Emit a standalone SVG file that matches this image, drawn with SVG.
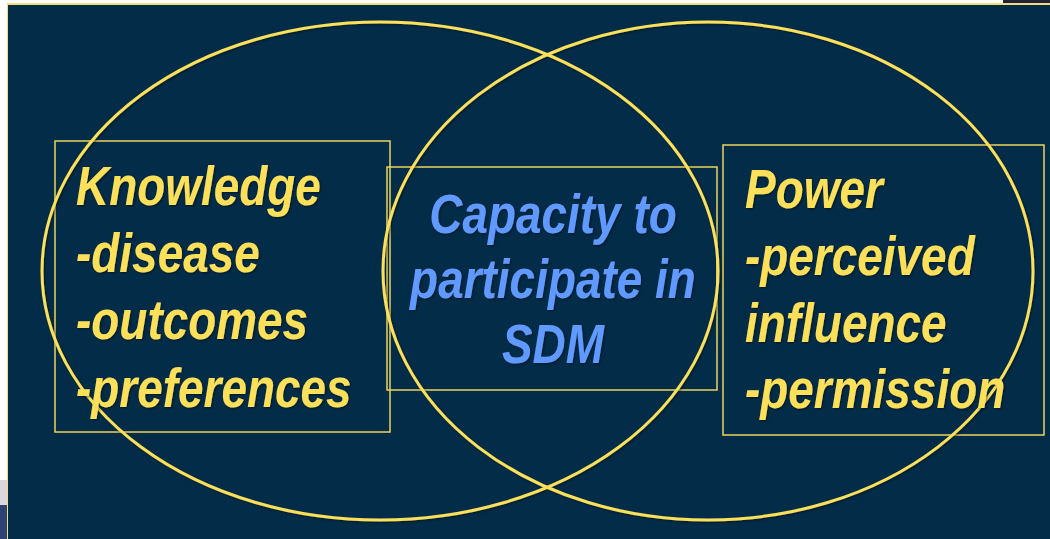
<svg xmlns="http://www.w3.org/2000/svg" width="1050" height="539" viewBox="0 0 1050 539">
  <defs>
    <filter id="shadow" x="-10%" y="-10%" width="120%" height="120%">
      <feDropShadow dx="1.2" dy="1.2" stdDeviation="1" flood-color="#000000" flood-opacity="0.45"/>
    </filter>
  </defs>
  <style>
    .ring { fill: none; stroke: #fbe05c; stroke-width: 3; }
    .box { fill: none; stroke: #eed35e; stroke-width: 1.5; }
    .lbl { font-family: "Liberation Sans", Arial, sans-serif; font-weight: bold; font-style: italic; font-size: 55px; }
    .gold { fill: #fde05a; }
    .blue { fill: #6199ff; }
  </style>

  <!-- page and slide frame -->
  <rect x="0" y="0" width="1050" height="539" fill="#ffffff"/>
  <rect x="1003" y="0" width="47" height="4" fill="#22223a"/>
  <rect x="0" y="480" width="8" height="25" fill="#d8d8de"/>
  <rect x="0" y="505" width="8" height="34" fill="#2c4272"/>
  <rect x="7" y="3" width="1043" height="536" fill="#f3dc7a"/>
  <rect x="8" y="5" width="1042" height="534" fill="#032c48"/>

  <!-- boxes -->
  <g id="knowledge-box">
    <rect class="box" x="55" y="141" width="335" height="291"/>
  </g>
  <g id="capacity-box">
    <rect class="box" x="387" y="167" width="330" height="223"/>
  </g>
  <g id="power-box">
    <rect class="box" x="723" y="145" width="321" height="290"/>
  </g>

  <!-- overlapping circles -->
  <g id="connectors" filter="url(#shadow)">
    <ellipse id="knowledge-circle" class="ring" cx="380" cy="271" rx="338" ry="249"/>
    <ellipse id="power-circle" class="ring" cx="708" cy="271" rx="325" ry="249"/>
  </g>

  <!-- labels -->
  <g id="knowledge" filter="url(#shadow)">
    <g transform="translate(76,0) scale(0.835,1)">
      <text class="lbl gold" x="0" y="205">Knowledge</text>
      <text class="lbl gold" x="0" y="272">-disease</text>
      <text class="lbl gold" x="0" y="339">-outcomes</text>
      <text class="lbl gold" x="0" y="407">-preferences</text>
    </g>
  </g>

  <g id="capacity" filter="url(#shadow)">
    <g transform="translate(553,0) scale(0.835,1)">
      <text class="lbl blue" x="0" y="233" text-anchor="middle">Capacity to</text>
      <text class="lbl blue" x="0" y="298" text-anchor="middle">participate in</text>
      <text class="lbl blue" x="0" y="363" text-anchor="middle">SDM</text>
    </g>
  </g>

  <g id="power" filter="url(#shadow)">
    <g transform="translate(745,0) scale(0.835,1)">
      <text class="lbl gold" x="0" y="208">Power</text>
      <text class="lbl gold" x="0" y="275">-perceived</text>
      <text class="lbl gold" x="0" y="342">influence</text>
      <text class="lbl gold" x="0" y="408">-permission</text>
    </g>
  </g>
</svg>
